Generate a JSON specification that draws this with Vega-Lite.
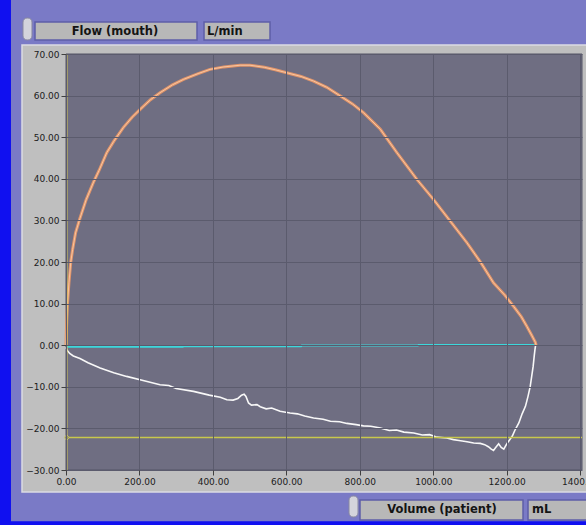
{
  "$schema": "https://vega.github.io/schema/vega-lite/v6.json",
  "width": 516,
  "height": 416,
  "autosize": {"type": "none"},
  "padding": {"left": 66, "top": 54, "right": 4, "bottom": 55},
  "background": "#7a7ac6",
  "data": {"values": [{}]},
  "config": {
    "view": {"stroke": null},
    "axis": {
      "labelFont": "DejaVu Sans",
      "labelFontSize": 9,
      "labelColor": "#202020",
      "tickColor": "#404040",
      "tickSize": 5,
      "labelPadding": 2,
      "grid": true,
      "gridColor": "#5b5b6d",
      "gridWidth": 1,
      "domain": false,
      "format": ".2f",
      "labelFlush": false,
      "labelOverlap": false
    }
  },
  "datasets": {
    "loop": [
      {"series": "exp", "vol": 0, "flow": 0},
      {"series": "exp", "vol": 1, "flow": 3},
      {"series": "exp", "vol": 2, "flow": 6},
      {"series": "exp", "vol": 4, "flow": 10},
      {"series": "exp", "vol": 8, "flow": 15},
      {"series": "exp", "vol": 13, "flow": 20},
      {"series": "exp", "vol": 18, "flow": 23},
      {"series": "exp", "vol": 26, "flow": 27},
      {"series": "exp", "vol": 38, "flow": 30.5},
      {"series": "exp", "vol": 55, "flow": 35},
      {"series": "exp", "vol": 74, "flow": 39},
      {"series": "exp", "vol": 90, "flow": 42},
      {"series": "exp", "vol": 111, "flow": 46.3},
      {"series": "exp", "vol": 130, "flow": 49},
      {"series": "exp", "vol": 156, "flow": 52.3},
      {"series": "exp", "vol": 180, "flow": 54.8},
      {"series": "exp", "vol": 202, "flow": 56.7},
      {"series": "exp", "vol": 230, "flow": 59},
      {"series": "exp", "vol": 256, "flow": 60.7},
      {"series": "exp", "vol": 290, "flow": 62.6},
      {"series": "exp", "vol": 320, "flow": 63.9},
      {"series": "exp", "vol": 360, "flow": 65.3},
      {"series": "exp", "vol": 392, "flow": 66.3},
      {"series": "exp", "vol": 430, "flow": 66.9},
      {"series": "exp", "vol": 474, "flow": 67.3},
      {"series": "exp", "vol": 501, "flow": 67.3},
      {"series": "exp", "vol": 540, "flow": 66.8},
      {"series": "exp", "vol": 570, "flow": 66.2},
      {"series": "exp", "vol": 601, "flow": 65.5},
      {"series": "exp", "vol": 640, "flow": 64.6},
      {"series": "exp", "vol": 674, "flow": 63.5},
      {"series": "exp", "vol": 710, "flow": 62},
      {"series": "exp", "vol": 747, "flow": 59.9},
      {"series": "exp", "vol": 780, "flow": 58},
      {"series": "exp", "vol": 810, "flow": 55.9},
      {"series": "exp", "vol": 856, "flow": 51.9},
      {"series": "exp", "vol": 901, "flow": 46.3},
      {"series": "exp", "vol": 956, "flow": 39.8},
      {"series": "exp", "vol": 1001, "flow": 35},
      {"series": "exp", "vol": 1050, "flow": 29.4},
      {"series": "exp", "vol": 1092, "flow": 24.6},
      {"series": "exp", "vol": 1130, "flow": 19.8},
      {"series": "exp", "vol": 1164, "flow": 15},
      {"series": "exp", "vol": 1195, "flow": 12},
      {"series": "exp", "vol": 1219, "flow": 9.3},
      {"series": "exp", "vol": 1240, "flow": 6.8},
      {"series": "exp", "vol": 1255, "flow": 4.5},
      {"series": "exp", "vol": 1268, "flow": 2.4},
      {"series": "exp", "vol": 1278, "flow": 0.7},
      {"series": "exp", "vol": 1280, "flow": 0},
      {"series": "base", "vol": 0, "flow": -0.4},
      {"series": "base", "vol": 318, "flow": -0.4},
      {"series": "base", "vol": 320, "flow": -0.25},
      {"series": "base", "vol": 640, "flow": -0.25},
      {"series": "base", "vol": 642, "flow": -0.1},
      {"series": "base", "vol": 958, "flow": -0.1},
      {"series": "base", "vol": 960, "flow": 0.05},
      {"series": "base", "vol": 1280, "flow": 0.05},
      {"series": "insp", "vol": 0, "flow": -0.5},
      {"series": "insp", "vol": 3, "flow": -1.2},
      {"series": "insp", "vol": 10, "flow": -2},
      {"series": "insp", "vol": 20, "flow": -2.6},
      {"series": "insp", "vol": 38, "flow": -3.2},
      {"series": "insp", "vol": 60, "flow": -4.2},
      {"series": "insp", "vol": 93, "flow": -5.5},
      {"series": "insp", "vol": 130, "flow": -6.6},
      {"series": "insp", "vol": 165, "flow": -7.5},
      {"series": "insp", "vol": 210, "flow": -8.5},
      {"series": "insp", "vol": 256, "flow": -9.5},
      {"series": "insp", "vol": 280, "flow": -9.7},
      {"series": "insp", "vol": 300, "flow": -10.4},
      {"series": "insp", "vol": 347, "flow": -11.1},
      {"series": "insp", "vol": 390, "flow": -12},
      {"series": "insp", "vol": 420, "flow": -12.5},
      {"series": "insp", "vol": 438, "flow": -13.1},
      {"series": "insp", "vol": 455, "flow": -13.2},
      {"series": "insp", "vol": 468, "flow": -12.8},
      {"series": "insp", "vol": 478, "flow": -12},
      {"series": "insp", "vol": 485, "flow": -11.8},
      {"series": "insp", "vol": 490, "flow": -12.3},
      {"series": "insp", "vol": 497, "flow": -13.9},
      {"series": "insp", "vol": 505, "flow": -14.4},
      {"series": "insp", "vol": 520, "flow": -14.3},
      {"series": "insp", "vol": 529, "flow": -14.8},
      {"series": "insp", "vol": 545, "flow": -15.3},
      {"series": "insp", "vol": 560, "flow": -15.1},
      {"series": "insp", "vol": 583, "flow": -15.9},
      {"series": "insp", "vol": 610, "flow": -16.3},
      {"series": "insp", "vol": 630, "flow": -16.5},
      {"series": "insp", "vol": 650, "flow": -17.0},
      {"series": "insp", "vol": 674, "flow": -17.5},
      {"series": "insp", "vol": 700, "flow": -17.8},
      {"series": "insp", "vol": 720, "flow": -18.3},
      {"series": "insp", "vol": 745, "flow": -18.4},
      {"series": "insp", "vol": 765, "flow": -18.8},
      {"series": "insp", "vol": 790, "flow": -19.1},
      {"series": "insp", "vol": 810, "flow": -19.4},
      {"series": "insp", "vol": 830, "flow": -19.5},
      {"series": "insp", "vol": 856, "flow": -19.9},
      {"series": "insp", "vol": 880, "flow": -20.5},
      {"series": "insp", "vol": 900, "flow": -20.4},
      {"series": "insp", "vol": 920, "flow": -20.9},
      {"series": "insp", "vol": 947, "flow": -21.1},
      {"series": "insp", "vol": 970, "flow": -21.6},
      {"series": "insp", "vol": 990, "flow": -21.5},
      {"series": "insp", "vol": 1010, "flow": -22.1},
      {"series": "insp", "vol": 1037, "flow": -22.3},
      {"series": "insp", "vol": 1055, "flow": -22.7},
      {"series": "insp", "vol": 1070, "flow": -22.9},
      {"series": "insp", "vol": 1092, "flow": -23.2},
      {"series": "insp", "vol": 1110, "flow": -23.5},
      {"series": "insp", "vol": 1128, "flow": -23.6},
      {"series": "insp", "vol": 1140, "flow": -23.9},
      {"series": "insp", "vol": 1150, "flow": -24.4},
      {"series": "insp", "vol": 1158, "flow": -25},
      {"series": "insp", "vol": 1164, "flow": -25.3},
      {"series": "insp", "vol": 1170, "flow": -24.6},
      {"series": "insp", "vol": 1178, "flow": -23.7},
      {"series": "insp", "vol": 1185, "flow": -24.6},
      {"series": "insp", "vol": 1192, "flow": -25},
      {"series": "insp", "vol": 1197, "flow": -24.2},
      {"series": "insp", "vol": 1201, "flow": -23.6},
      {"series": "insp", "vol": 1210, "flow": -22.5},
      {"series": "insp", "vol": 1215, "flow": -21.9},
      {"series": "insp", "vol": 1222, "flow": -20.5},
      {"series": "insp", "vol": 1233, "flow": -18.7},
      {"series": "insp", "vol": 1242, "flow": -16.5},
      {"series": "insp", "vol": 1251, "flow": -14.7},
      {"series": "insp", "vol": 1258, "flow": -12.3},
      {"series": "insp", "vol": 1264, "flow": -9.9},
      {"series": "insp", "vol": 1268, "flow": -7.5},
      {"series": "insp", "vol": 1272, "flow": -5.1},
      {"series": "insp", "vol": 1275, "flow": -2.5},
      {"series": "insp", "vol": 1277, "flow": -1},
      {"series": "insp", "vol": 1279, "flow": 0.2}
    ]
  },
  "layer": [
    {
      "mark": {"type": "rect", "color": "#1010f0"},
      "encoding": {
        "x": {"datum": -193.4, "type": "quantitative", "scale": {"domain": [0, 1405], "nice": false, "zero": false}},
        "x2": {"datum": -149.8},
        "y": {"datum": 84.2, "type": "quantitative", "scale": {"domain": [-30, 70], "nice": false, "zero": false}},
        "y2": {"datum": -44.4}
      }
    },
    {
      "mark": {"type": "rect", "color": "#1010f0"},
      "encoding": {
        "x": {"datum": -193.4, "type": "quantitative", "scale": {"domain": [0, 1405], "nice": false, "zero": false}},
        "x2": {"datum": 1500},
        "y": {"datum": -42.3, "type": "quantitative", "scale": {"domain": [-30, 70], "nice": false, "zero": false}},
        "y2": {"datum": -44.4}
      }
    },
    {
      "mark": {"type": "rect", "color": "#bfbfbf", "stroke": "#dcdce4", "strokeWidth": 1.5},
      "encoding": {
        "x": {"datum": -119.8, "type": "quantitative", "scale": {"domain": [0, 1405], "nice": false, "zero": false}},
        "x2": {"datum": 1426.8},
        "y": {"datum": 72.16, "type": "quantitative", "scale": {"domain": [-30, 70], "nice": false, "zero": false}},
        "y2": {"datum": -35.29}
      }
    },
    {
      "mark": {"type": "rect", "color": "#6f6e82", "stroke": "#555566", "strokeWidth": 1},
      "encoding": {
        "x": {"datum": 0, "type": "quantitative", "scale": {"domain": [0, 1405], "nice": false, "zero": false}},
        "x2": {"datum": 1405},
        "y": {"datum": 70, "type": "quantitative", "scale": {"domain": [-30, 70], "nice": false, "zero": false}},
        "y2": {"datum": -30}
      }
    },
    {
      "data": {"values": [
        {"x0": -84.4, "x1": 356.7, "y0": 77.69, "y1": 73.37},
        {"x0": 375.8, "x1": 555.5, "y0": 77.69, "y1": 73.37},
        {"x0": 800.5, "x1": 1244.4, "y0": -37.21, "y1": -42.02},
        {"x0": 1258.0, "x1": 1454.0, "y0": -37.21, "y1": -42.02}
      ]},
      "mark": {"type": "rect", "color": "#b8b8b8", "stroke": "#5e5ea8", "strokeWidth": 1.5},
      "encoding": {
        "x": {"field": "x0", "type": "quantitative", "scale": {"domain": [0, 1405], "nice": false, "zero": false}},
        "x2": {"field": "x1"},
        "y": {"field": "y0", "type": "quantitative", "scale": {"domain": [-30, 70], "nice": false, "zero": false}},
        "y2": {"field": "y1"}
      }
    },
    {
      "data": {"values": [
        {"x0": -117.1, "x1": -92.6, "y0": 78.65, "y1": 73.37},
        {"x0": 770.6, "x1": 795.1, "y0": -36.25, "y1": -41.3}
      ]},
      "mark": {"type": "rect", "color": "#d4d4dc", "stroke": "#8888a0", "strokeWidth": 1, "cornerRadius": 4},
      "encoding": {
        "x": {"field": "x0", "type": "quantitative", "scale": {"domain": [0, 1405], "nice": false, "zero": false}},
        "x2": {"field": "x1"},
        "y": {"field": "y0", "type": "quantitative", "scale": {"domain": [-30, 70], "nice": false, "zero": false}},
        "y2": {"field": "y1"}
      }
    },
    {
      "data": {"name": "loop"},
      "transform": [{"filter": "datum.series === 'base'"}],
      "mark": {"type": "line", "color": "#3cd8dc", "strokeWidth": 2},
      "encoding": {
        "x": {"field": "vol", "type": "quantitative", "scale": {"domain": [0, 1405], "nice": false, "zero": false},
          "axis": {"values": [0, 200, 400, 600, 800, 1000, 1200, 1400], "title": null, "zindex": 1}},
        "y": {"field": "flow", "type": "quantitative", "scale": {"domain": [-30, 70], "nice": false, "zero": false},
          "axis": {"values": [-30, -25, -20, -15, -10, -5, 0, 5, 10, 15, 20, 25, 30, 35, 40, 45, 50, 55, 60, 65, 70], "title": null, "zindex": 1}},
        "order": {"value": null}
      }
    },
    {
      "data": {"name": "loop"},
      "transform": [{"filter": "datum.series === 'insp'"}],
      "mark": {"type": "line", "color": "#f8f8f8", "strokeWidth": 1.6},
      "encoding": {
        "x": {"field": "vol", "type": "quantitative", "scale": {"domain": [0, 1405], "nice": false, "zero": false}},
        "y": {"field": "flow", "type": "quantitative", "scale": {"domain": [-30, 70], "nice": false, "zero": false}},
        "order": {"value": null}
      }
    },
    {
      "data": {"name": "loop"},
      "transform": [{"filter": "datum.series === 'exp'"}],
      "mark": {"type": "line", "color": "#e0946a", "strokeWidth": 3},
      "encoding": {
        "x": {"field": "vol", "type": "quantitative", "scale": {"domain": [0, 1405], "nice": false, "zero": false}},
        "y": {"field": "flow", "type": "quantitative", "scale": {"domain": [-30, 70], "nice": false, "zero": false}},
        "order": {"value": null}
      }
    },
    {
      "data": {"name": "loop"},
      "transform": [{"filter": "datum.series === 'exp'"}],
      "mark": {"type": "line", "color": "#f8c6a0", "strokeWidth": 1},
      "encoding": {
        "x": {"field": "vol", "type": "quantitative", "scale": {"domain": [0, 1405], "nice": false, "zero": false}},
        "y": {"field": "flow", "type": "quantitative", "scale": {"domain": [-30, 70], "nice": false, "zero": false}},
        "order": {"value": null}
      }
    },
    {
      "mark": {"type": "rule", "color": "#c8c84c", "strokeWidth": 1.5},
      "encoding": {
        "y": {"datum": -22.2, "type": "quantitative", "scale": {"domain": [-30, 70], "nice": false, "zero": false}}
      }
    },
    {
      "mark": {"type": "rule", "color": "#d8cc50", "strokeWidth": 1.5},
      "encoding": {
        "x": {"datum": 2, "type": "quantitative", "scale": {"domain": [0, 1405], "nice": false, "zero": false}}
      }
    },
    {
      "mark": {"type": "point", "shape": "diamond", "size": 30, "stroke": "#d8d060", "strokeWidth": 1, "fill": "#8a8a60", "filled": true},
      "encoding": {
        "x": {"datum": 2, "type": "quantitative", "scale": {"domain": [0, 1405], "nice": false, "zero": false}},
        "y": {"datum": -22.2, "type": "quantitative", "scale": {"domain": [-30, 70], "nice": false, "zero": false}}
      }
    },
    {
      "data": {"values": [
        {"label": "Flow (mouth)", "tx": 133.4, "ty": 75.4},
        {"label": "Volume (patient)", "tx": 1023.8, "ty": -39.62}
      ]},
      "mark": {"type": "text", "font": "DejaVu Sans", "fontWeight": "bold", "fontSize": 11.5, "color": "#141414", "align": "center", "baseline": "middle"},
      "encoding": {
        "x": {"field": "tx", "type": "quantitative", "scale": {"domain": [0, 1405], "nice": false, "zero": false}},
        "y": {"field": "ty", "type": "quantitative", "scale": {"domain": [-30, 70], "nice": false, "zero": false}},
        "text": {"field": "label"}
      }
    },
    {
      "data": {"values": [
        {"label": "L/min", "tx": 383.9, "ty": 75.4},
        {"label": "mL", "tx": 1268.9, "ty": -39.62}
      ]},
      "mark": {"type": "text", "font": "DejaVu Sans", "fontWeight": "bold", "fontSize": 11.5, "color": "#141414", "align": "left", "baseline": "middle"},
      "encoding": {
        "x": {"field": "tx", "type": "quantitative", "scale": {"domain": [0, 1405], "nice": false, "zero": false}},
        "y": {"field": "ty", "type": "quantitative", "scale": {"domain": [-30, 70], "nice": false, "zero": false}},
        "text": {"field": "label"}
      }
    }
  ]
}
